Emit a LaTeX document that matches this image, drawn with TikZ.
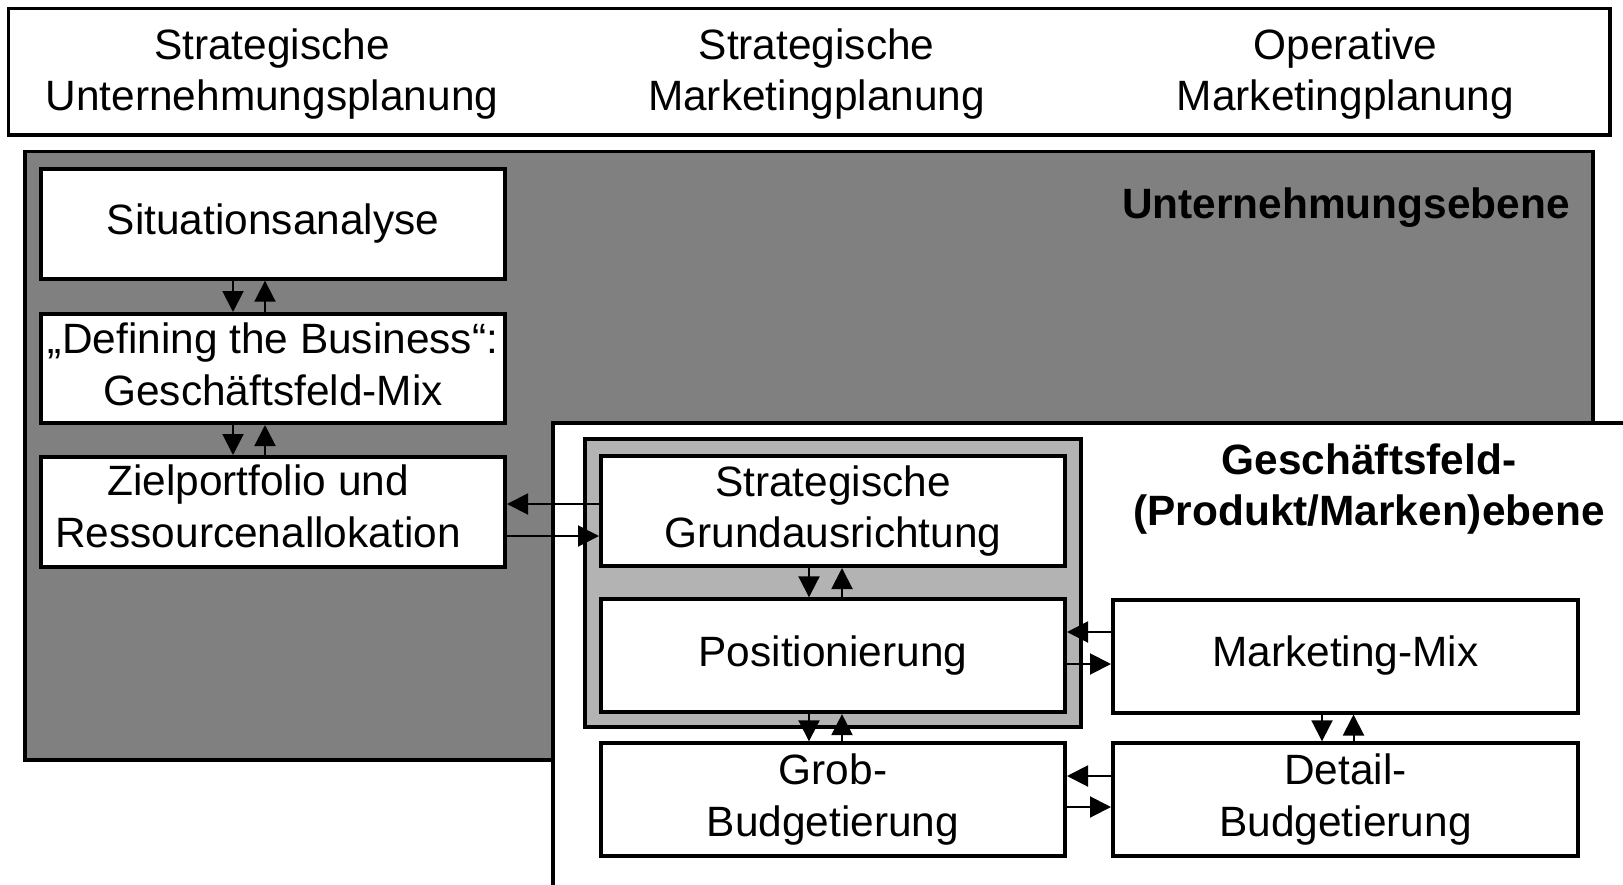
\documentclass[tikz,border=0pt]{standalone}
\usepackage{fontspec}
\setmainfont{Liberation Sans}
\usetikzlibrary{arrows.meta,calc}
\definecolor{darkpanel}{HTML}{808080}
\definecolor{lightpanel}{HTML}{B3B3B3}

\begin{document}
\begin{tikzpicture}[x=0.5pt,y=-0.5pt,
  every node/.style={font=\fontsize{21.2pt}{25.85pt}\selectfont, inner sep=0pt},
  box/.style={draw, fill=white, line width=2pt, minimum width=232pt, align=center},
  heading/.style={align=center},
  level/.style={font=\fontsize{21.2pt}{25.85pt}\selectfont\bfseries, align=center},
  panel/.style={draw, line width=1.75pt},
  arr/.style={line width=1pt, -{Triangle[length=10.5pt,width=10.5pt]}}]

\useasboundingbox (0,0) rectangle (1623,884);
\clip (0,0) rectangle (1623,884);

% header strip with the three planning columns
\draw[panel, fill=white] (8.5,8.5) rectangle (1610,135);
\node[heading] (h1) at (272,74)    {Strategische\\Unternehmungsplanung};
\node[heading] (h2) at (816.6,74)  {Strategische\\Marketingplanung};
\node[heading] (h3) at (1345.5,74) {Operative\\Marketingplanung};

% corporate level panel
\draw[panel, fill=darkpanel] (25,151.5) rectangle (1593,760);
% business unit level panel (runs off the right and bottom edges)
\draw[panel, fill=white] (553,423) rectangle (1700,1000);
% strategic core group
\draw[line width=2pt, fill=lightpanel] (584.5,439) rectangle (1080.5,727);

\node[level] (ue) at (1346,207.6) {Unternehmungsebene};
\node[level] (ge) at (1369,489) {Geschäftsfeld-\\(Produkt/Marken)ebene};

% process boxes
\node[box, minimum height=55pt]   (sit) at (273,223.7) {Situationsanalyse};
\node[box, minimum height=54.5pt,
      label={[align=center, yshift=2pt]center:„Defining the Business“:\\Geschäftsfeld-Mix}]
      (def) at (273,368.5) {};
\node[box, minimum height=55pt,
      label={[align=center, xshift=-7.5pt, yshift=3pt]center:Zielportfolio und\\Ressourcenallokation}]
      (ziel) at (273,512) {};
\node[box, minimum height=55pt]   (sg)  at (833,511) {Strategische\\Grundausrichtung};
\node[box, minimum height=56.4pt] (pos) at (833,655.7) {Positionierung};
\node[box, minimum height=56.4pt] (grob) at (833,799.7) {Grob-\\Budgetierung};
\node[box, minimum height=56.5pt, minimum width=232.5pt] (mm) at (1345.5,656) {Marketing-Mix};
\node[box, minimum height=56.4pt, minimum width=232.5pt] (det) at (1345.5,799.7) {Detail-\\Budgetierung};

% lanes for the paired connectors
\coordinate (c1) at (233,0);
\coordinate (c2) at (265,0);
\coordinate (c3) at (809,0);
\coordinate (c4) at (842,0);
\coordinate (c5) at (1322,0);
\coordinate (c6) at (1353.5,0);
\coordinate (r1) at (0,504);
\coordinate (r2) at (0,536);
\coordinate (r3) at (0,632);
\coordinate (r4) at (0,664);
\coordinate (r5) at (0,776);
\coordinate (r6) at (0,807);

% vertical connectors
\draw[arr] (sit.south -| c1) -- (def.north -| c1);
\draw[arr] (def.north -| c2) -- (sit.south -| c2);
\draw[arr] (def.south -| c1) -- (ziel.north -| c1);
\draw[arr] (ziel.north -| c2) -- (def.south -| c2);
\draw[arr] (sg.south -| c3) -- (pos.north -| c3);
\draw[arr] (pos.north -| c4) -- (sg.south -| c4);
\draw[arr] (pos.south -| c3) -- (grob.north -| c3);
\draw[arr] (grob.north -| c4) -- (pos.south -| c4);
\draw[arr] (mm.south -| c5) -- (det.north -| c5);
\draw[arr] (det.north -| c6) -- (mm.south -| c6);

% horizontal connectors
\draw[arr] (sg.west |- r1) -- (ziel.east |- r1);
\draw[arr] (ziel.east |- r2) -- (sg.west |- r2);
\draw[arr] (mm.west |- r3) -- (pos.east |- r3);
\draw[arr] (pos.east |- r4) -- (mm.west |- r4);
\draw[arr] (det.west |- r5) -- (grob.east |- r5);
\draw[arr] (grob.east |- r6) -- (det.west |- r6);
\end{tikzpicture}
\end{document}
